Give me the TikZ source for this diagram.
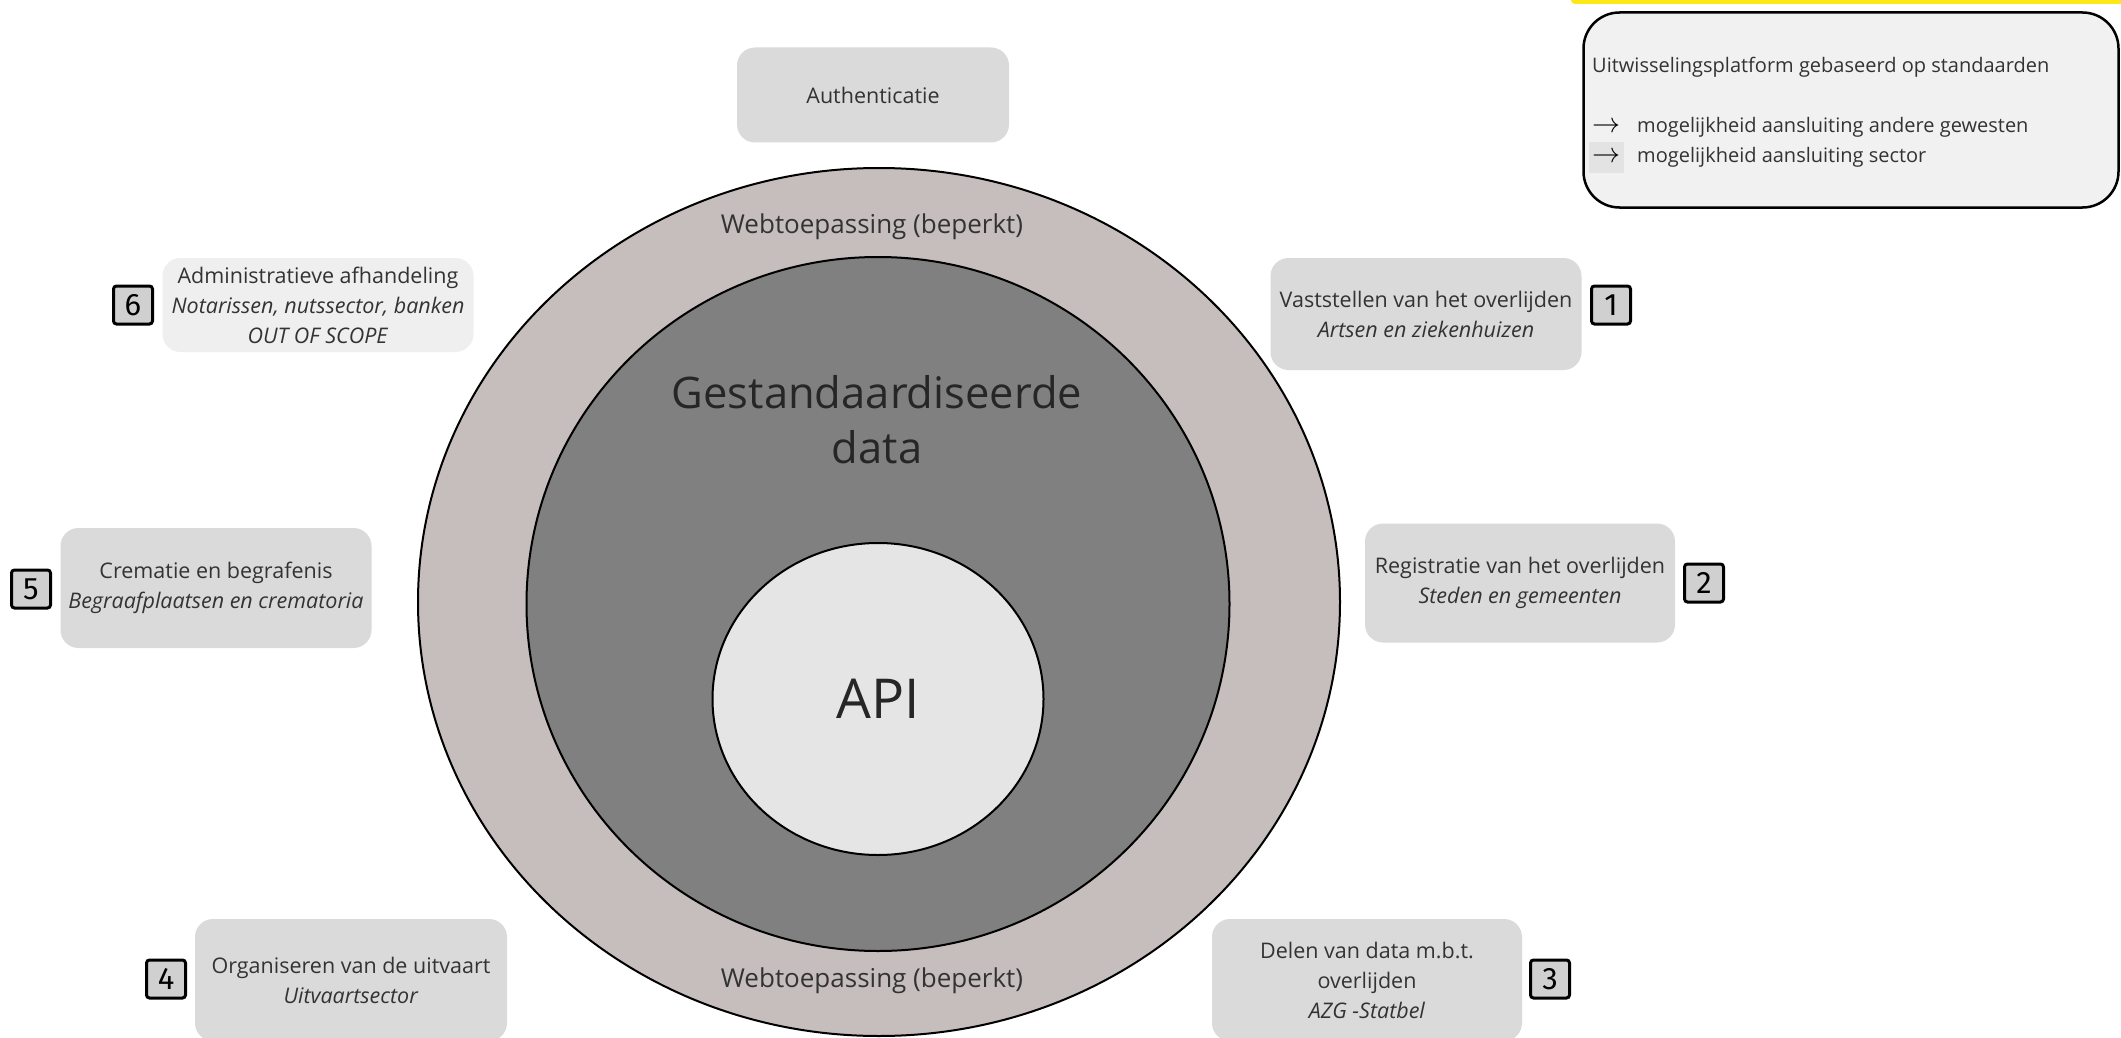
\documentclass[tikz,border=0pt]{standalone}
\usepackage{fontspec}
\setmainfont{Open Sans}
\newfontfamily\numfont{Fira Sans}
\usetikzlibrary{shapes.geometric}
\definecolor{outerfill}{HTML}{C6BEBD}
\definecolor{midfill}{HTML}{808080}
\definecolor{apifill}{HTML}{E5E5E5}
\definecolor{cardgray}{HTML}{DADADA}
\definecolor{cardlight}{HTML}{EFEFEF}
\definecolor{numgray}{HTML}{D0D0D0}
\definecolor{platfill}{HTML}{F1F1F1}
\definecolor{hlgray}{HTML}{E3E3E3}
\definecolor{txt}{HTML}{333333}
\definecolor{yband}{HTML}{FFE81A}
\tikzset{
  card/.style={rectangle, rounded corners=18pt, fill=cardgray, text=txt, align=center,
    inner sep=0pt, font=\fontsize{21.5}{30}\selectfont},
  numbox/.style={rectangle, draw=black, line width=3pt, rounded corners=3pt, fill=numgray,
    minimum width=39pt, minimum height=38pt, inner sep=0pt, font=\numfont\fontsize{31}{31}\selectfont, text=black},
  ring/.style={ellipse, draw=black, line width=2pt, inner sep=0pt},
  ringlabel/.style={text=txt, font=\fontsize{26}{30}\selectfont, inner sep=0pt},
}
\newcommand{\platarrow}{\makebox[45pt][l]{\color{black}\scalebox{1.35}{$\rightarrow$}}}
\begin{document}
\begin{tikzpicture}[x=1pt,y=-1pt]
\useasboundingbox (0,0) rectangle (2121,1038);
\fill[white] (0,0) rectangle (2121,1038);
% yellow band top right
\fill[yband, rounded corners=4pt] (1571,-10) rectangle (2135,4);
% circles
\node[ring, fill=outerfill, minimum width=922pt, minimum height=868pt] (web) at (879,602) {};
\node[ring, fill=midfill, minimum width=703pt, minimum height=694pt] (data) at (878,604) {};
\node[ring, fill=apifill, minimum width=331pt, minimum height=312pt] (api) at (878,699) {};
\node[ringlabel] (webtop) at (872,227) {Webtoepassing (beperkt)};
\node[ringlabel] (webbot) at (872,981) {Webtoepassing (beperkt)};
\node[text=black!85, align=center, inner sep=0pt, font=\fontsize{43.5}{55}\selectfont] (datalbl) at (877,420) {Gestandaardiseerde\\data};
\node[text=black!85, inner sep=0pt, font=\fontsize{55}{60}\selectfont] (apilbl) at (878,699) {API};
% cards
\node[card, minimum width=272pt, minimum height=95pt] (auth) at (873,95) {Authenticatie};
\node[card, minimum width=311pt, minimum height=112pt] (c1) at (1426,314) {Vaststellen van het overlijden\\\textit{Artsen en ziekenhuizen}};
\node[card, minimum width=310pt, minimum height=119pt] (c2) at (1520,583) {Registratie van het overlijden\\\textit{Steden en gemeenten}};
\node[card, minimum width=310pt, minimum height=122pt] (c3) at (1367,980) {Delen van data m.b.t.\\overlijden\\\textit{AZG -Statbel}};
\node[card, minimum width=312pt, minimum height=122pt] (c4) at (351,980) {Organiseren van de uitvaart\\\textit{Uitvaartsector}};
\node[card, minimum width=311pt, minimum height=120pt] (c5) at (216,588) {Crematie en begrafenis\\\textit{Begraafplaatsen en crematoria}};
\node[card, fill=cardlight, minimum width=311pt, minimum height=94pt] (c6) at (318,305) {Administratieve afhandeling\\\textit{Notarissen, nutssector, banken}\\\textit{OUT OF SCOPE}};
% number boxes
\node[numbox] (n1) at (1611,305) {1};
\node[numbox] (n2) at (1704,583) {2};
\node[numbox] (n3) at (1550,979) {3};
\node[numbox] (n4) at (166,979) {4};
\node[numbox] (n5) at (31,589) {5};
\node[numbox] (n6) at (133,305) {6};
% platform box
\node[rectangle, draw=black, line width=2.5pt, rounded corners=36pt, fill=platfill,
  minimum width=535pt, minimum height=195pt, inner sep=0pt] (plat) at (1851,110) {};
\fill[hlgray] (1589,142) rectangle (1624,173);
\node[anchor=west, align=left, text=txt, inner sep=0pt, font=\fontsize{20}{30}\selectfont] (plattxt) at (1592,112)
  {Uitwisselingsplatform gebaseerd op standaarden\\ \\
   \platarrow mogelijkheid aansluiting andere gewesten\\
   \platarrow mogelijkheid aansluiting sector};
\end{tikzpicture}
\end{document}
